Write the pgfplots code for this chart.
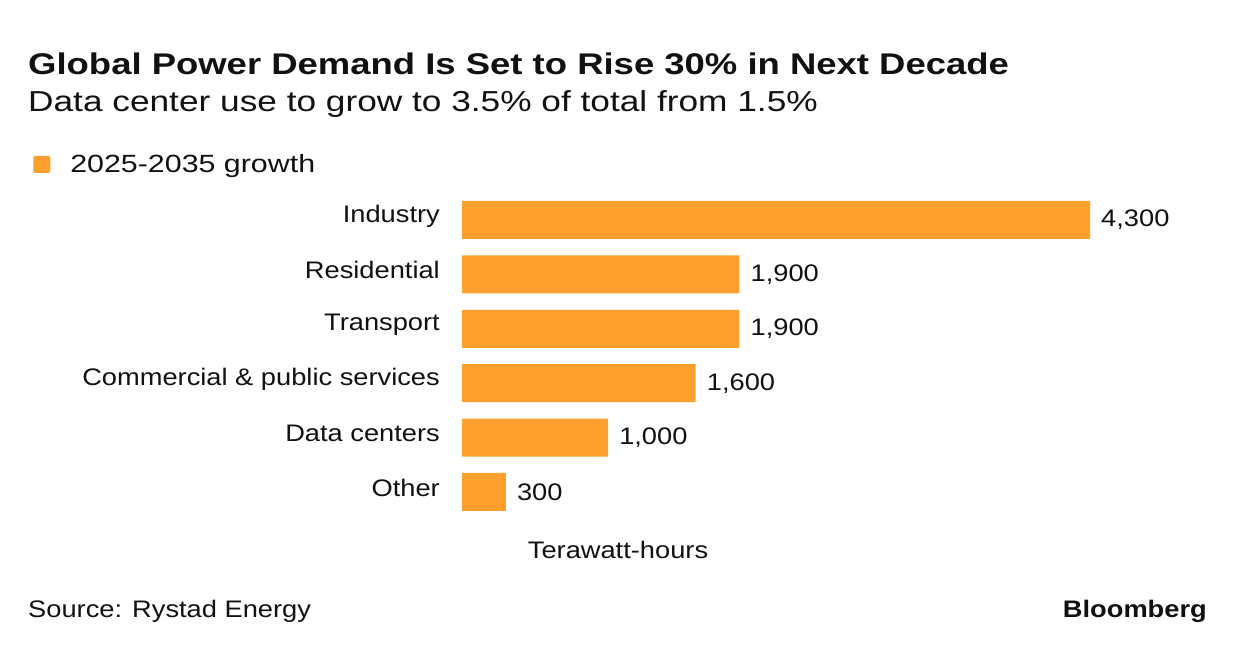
\documentclass[border=0pt]{standalone}
\usepackage{pgfplots}
\pgfplotsset{compat=1.18}
\usepackage{fontspec}
\setmainfont{Liberation Sans}[FakeStretch=1.14]
\newfontfamily\widefont{Liberation Sans}[FakeStretch=1.22]
\definecolor{barorange}{HTML}{FFA02E}
\definecolor{txt}{HTML}{111111}

\begin{document}
\begin{tikzpicture}[x=1bp,y=1bp]
\useasboundingbox[fill=white] (0,0) rectangle (1236,654);

% titles
\node[anchor=base west, inner sep=0, text=txt, font=\widefont\bfseries\fontsize{30}{34}\selectfont]
  at (28,579) {Global Power Demand Is Set to Rise 30\% in Next Decade};
\node[anchor=base west, inner sep=0, text=txt, font=\widefont\fontsize{29}{33}\selectfont]
  at (28,542) {Data center use to grow to 3.5\% of total from 1.5\%};

\begin{axis}[
    at={(462bp,134.8bp)}, anchor=south west,
    scale only axis,
    width=628bp, height=326.4bp,
    xmin=0, xmax=4300,
    ymin=-0.5, ymax=5.5,
    y dir=reverse,
    xbar, bar width=38bp, bar shift=0pt,
    axis line style={draw=none},
    major tick length=0pt,
    xtick=\empty,
    ytick={0,1,2,3,4,5},
    yticklabels={Industry,Residential,Transport,Commercial \& public services,Data centers,Other},
    yticklabel style={font=\fontsize{24}{28}\selectfont, text=txt, inner sep=0pt, xshift=-22bp, yshift=4bp},
    clip=false,
    point meta=explicit symbolic,
    nodes near coords,
    nodes near coords style={font=\fontsize{24}{28}\selectfont, text=txt, anchor=west, inner sep=0pt, xshift=11bp},
    legend style={at={(-0.683,1.125)}, anchor=north west, draw=none, fill=none,
        font=\widefont\fontsize{25}{29}\selectfont, text=txt, inner sep=0pt,
        legend cell align=left},
    legend image code/.code={\fill[barorange, rounded corners=2bp] (0bp,-9bp) rectangle (17bp,8bp);
        \path (35bp,0bp);},
]
\addplot[fill=barorange, draw=none] coordinates {
    (4300,0) [4,300]
    (1900,1) [1,900]
    (1900,2) [1,900]
    (1600,3) [1,600]
    (1000,4) [1,000]
    (300,5)  [300]
};
\addlegendentry{2025-2035 growth}
\end{axis}

\node[anchor=center, text=txt, font=\fontsize{24}{28}\selectfont] at (618,104) {Terawatt-hours};
\node[anchor=base west, inner sep=0, text=txt, font=\fontsize{24}{28}\selectfont] at (28,36) {Source: Rystad Energy};
\node[anchor=base east, inner sep=0, text=txt, font=\bfseries\fontsize{24}{28}\selectfont] at (1207,36) {Bloomberg};
\end{tikzpicture}
\end{document}
